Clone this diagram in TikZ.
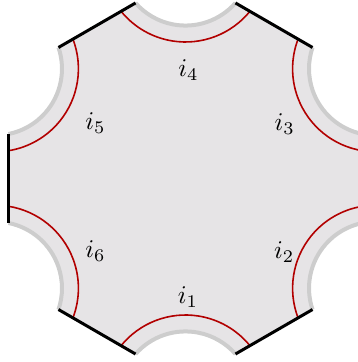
\documentclass[tikz,border=0pt]{standalone}
\definecolor{hexfill}{RGB}{230,228,230}
\definecolor{arcgray}{RGB}{205,205,205}
\definecolor{geored}{RGB}{178,0,0}
\begin{document}
\begin{tikzpicture}[x=1pt,y=1pt,
  edgeline/.style={line width=3pt,black},
  bdryarc/.style={line width=4pt,arcgray},
  geoline/.style={line width=1.6pt,geored},
  lab/.style={inner sep=0pt,scale=2.55}]
\useasboundingbox (0,0) rectangle (358,362);
\clip (0,0) rectangle (358,362);
\begin{scope}[shift={(185.5,183.5)}]
  \fill[hexfill] (-14.11:182.5)
    \foreach \t in {0,60,...,300}{
      -- (\t+14.11:182.5) arc[start angle=\t+258.65, end angle=\t+161.35, radius=66.57]
    } -- cycle;
  \foreach \t in {0,60,...,300}
    \draw[bdryarc] (\t+14.11:182.5) arc[start angle=\t+258.65, end angle=\t+161.35, radius=66.57];
  \foreach \t in {0,60,...,300}
    \draw[geoline] (\t+30:219.5) ++(\t+260.93:83) arc[start angle=\t+260.93, end angle=\t+159.07, radius=83];
  \foreach \t in {0,60,...,300}
    \draw[edgeline] (\t-14.11:182.5) -- (\t+14.11:182.5);
\end{scope}
\node[lab] (l1) at (188,65) {$i_1$};
\node[lab] (l2) at (284.3,109.5) {$i_2$};
\node[lab] (l3) at (284.7,238) {$i_3$};
\node[lab] (l4) at (188.5,292) {$i_4$};
\node[lab] (l5) at (95.5,238.5) {$i_5$};
\node[lab] (l6) at (95.5,110.7) {$i_6$};
\end{tikzpicture}
\end{document}
